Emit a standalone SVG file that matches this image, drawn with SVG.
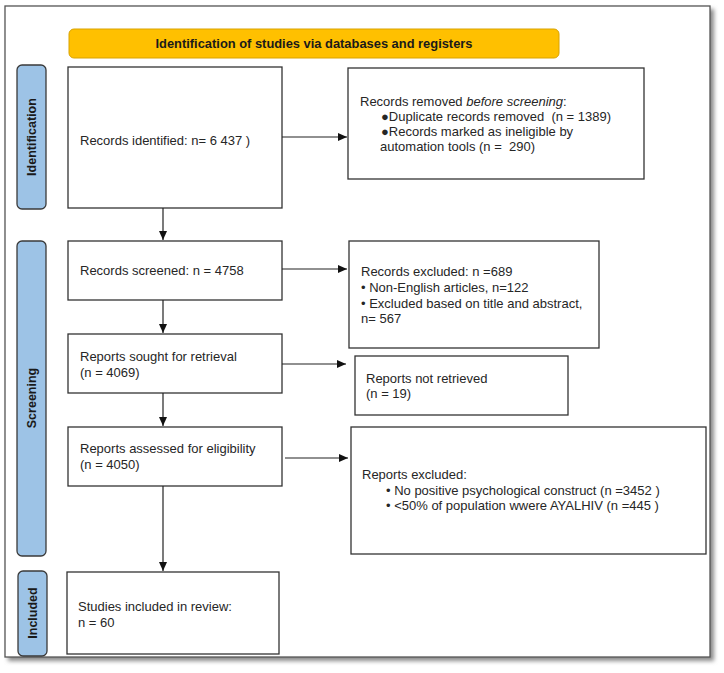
<svg xmlns="http://www.w3.org/2000/svg" width="724" height="673" viewBox="0 0 724 673">
<style>
  .box{fill:#ffffff;stroke:#333333;stroke-width:1.3}
  .lab{fill:#9dc3e6;stroke:#3a3a3a;stroke-width:1.3}
  .t{font-family:"Liberation Sans",Arial,sans-serif;font-size:13px;fill:#262626;white-space:pre}
  .lt{font-family:"Liberation Sans",Arial,sans-serif;font-size:12.5px;font-weight:bold;fill:#1a1a1a}
  .hd{font-family:"Liberation Sans",Arial,sans-serif;font-size:13px;font-weight:bold;fill:#1a1a1a}
  .c{stroke:#222222;stroke-width:1.2;fill:none}
</style>
<defs>
  <marker id="ah" markerWidth="10" markerHeight="10" refX="9" refY="5" orient="auto" markerUnits="userSpaceOnUse">
    <path d="M0,1 L9,5 L0,9 Z" fill="#111111"/>
  </marker>
  <filter id="sh" x="-5%" y="-5%" width="110%" height="110%">
    <feGaussianBlur stdDeviation="2"/>
  </filter>
</defs>
<rect width="724" height="673" fill="#ffffff"/>
<g id="frame">
  <rect x="8" y="9" width="706" height="652" fill="#8a8a8a" filter="url(#sh)"/>
  <rect x="5" y="6" width="705" height="651" fill="#ffffff" stroke="#555555" stroke-width="1.3"/>
</g>
<g id="header">
  <rect x="69" y="29" width="490" height="29" rx="5" fill="#ffc000" stroke="#d9a300" stroke-width="1"/>
  <text class="hd" x="314" y="48" text-anchor="middle" textLength="317" lengthAdjust="spacingAndGlyphs">Identification of studies via databases and registers</text>
</g>
<g id="label-identification">
  <rect class="lab" x="17" y="65" width="29" height="144" rx="5"/>
  <text class="lt" transform="translate(36,137) rotate(-90)" text-anchor="middle">Identification</text>
</g>
<g id="label-screening">
  <rect class="lab" x="17" y="241" width="29" height="315" rx="5"/>
  <text class="lt" transform="translate(36,398) rotate(-90)" text-anchor="middle">Screening</text>
</g>
<g id="label-included">
  <rect class="lab" x="18" y="571" width="29" height="85" rx="5"/>
  <text class="lt" transform="translate(37,613) rotate(-90)" text-anchor="middle">Included</text>
</g>
<g id="records-identified">
  <rect class="box" x="68" y="67" width="214" height="141"/>
  <text class="t" x="80" y="145">Records identified: n= 6 437 )</text>
</g>
<g id="records-removed">
  <rect class="box" x="348" y="68" width="296" height="111"/>
  <text class="t" x="360" y="106">Records removed <tspan font-style="italic">before screening</tspan>:</text>
  <text class="t" x="381" y="121">●Duplicate records removed  (n = 1389)</text>
  <text class="t" x="381" y="136">●Records marked as ineligible by</text>
  <text class="t" x="380" y="151">automation tools (n =  290)</text>
</g>
<g id="records-screened">
  <rect class="box" x="68" y="241" width="214" height="59"/>
  <text class="t" x="80" y="275">Records screened: n = 4758</text>
</g>
<g id="records-excluded">
  <rect class="box" x="349" y="241" width="250" height="107"/>
  <text class="t" x="361" y="276">Records excluded: n =689</text>
  <text class="t" x="361" y="292">• Non-English articles, n=122</text>
  <text class="t" x="361" y="308">• Excluded based on title and abstract,</text>
  <text class="t" x="361" y="323">n= 567</text>
</g>
<g id="reports-sought">
  <rect class="box" x="68" y="334" width="214" height="59"/>
  <text class="t" x="80" y="361">Reports sought for retrieval</text>
  <text class="t" x="80" y="377">(n = 4069)</text>
</g>
<g id="reports-not-retrieved">
  <rect class="box" x="355" y="356" width="213" height="59"/>
  <text class="t" x="366" y="383">Reports not retrieved</text>
  <text class="t" x="366" y="398">(n = 19)</text>
</g>
<g id="reports-assessed">
  <rect class="box" x="68" y="427" width="214" height="59"/>
  <text class="t" x="80" y="453">Reports assessed for eligibility</text>
  <text class="t" x="80" y="469">(n = 4050)</text>
</g>
<g id="reports-excluded">
  <rect class="box" x="351" y="427" width="355" height="127"/>
  <text class="t" x="362" y="479">Reports excluded:</text>
  <text class="t" x="386" y="495">• No positive psychological construct (n =3452 )</text>
  <text class="t" x="386" y="510">• &lt;50% of population wwere AYALHIV (n =445 )</text>
</g>
<g id="studies-included">
  <rect class="box" x="67" y="572" width="212" height="82"/>
  <text class="t" x="78" y="611">Studies included in review:</text>
  <text class="t" x="78" y="627">n = 60</text>
</g>
<g id="connectors">
  <line class="c" x1="163" y1="208" x2="163" y2="240" marker-end="url(#ah)"/>
  <line class="c" x1="282" y1="137" x2="347" y2="137" marker-end="url(#ah)"/>
  <line class="c" x1="282" y1="269" x2="347" y2="269" marker-end="url(#ah)"/>
  <line class="c" x1="163" y1="300" x2="163" y2="333" marker-end="url(#ah)"/>
  <line class="c" x1="282" y1="364" x2="346" y2="364" marker-end="url(#ah)"/>
  <line class="c" x1="163" y1="393" x2="163" y2="426" marker-end="url(#ah)"/>
  <line class="c" x1="285" y1="458" x2="348" y2="458" marker-end="url(#ah)"/>
  <line class="c" x1="163" y1="486" x2="163" y2="571" marker-end="url(#ah)"/>
</g>
</svg>
